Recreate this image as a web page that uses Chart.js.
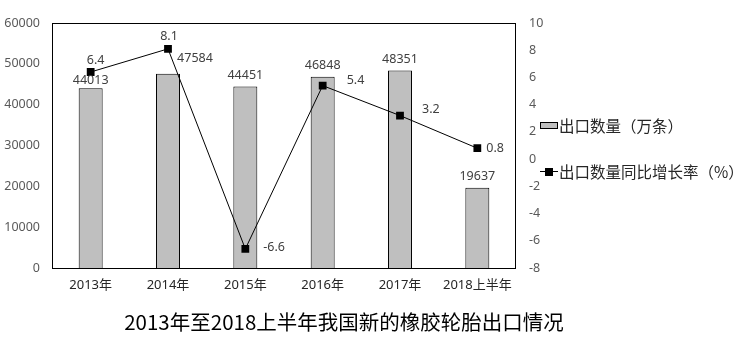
<!DOCTYPE html>
<html>
<head>
<meta charset="utf-8">
<script src="https://cdn.jsdelivr.net/npm/chart.js@4"></script>
<style>
  body { margin: 0; background: #fff; }
  canvas { display: block; }
</style>
</head>
<body>
<canvas id="myChart" width="744" height="352"></canvas>
<script>
// data
const categories = ['2013年', '2014年', '2015年', '2016年', '2017年', '2018上半年'];
const exportVolume = [44013, 47584, 44451, 46848, 48351, 19637];   // 出口数量（万条）
const growthRate = [6.4, 8.1, -6.6, 5.4, 3.2, 0.8];                  // 同比增长率（%）
const titleText = '2013年至2018上半年我国新的橡胶轮胎出口情况';
const barLegend = '出口数量（万条）';
const lineLegend = '出口数量同比增长率（%）';

const FONT = "'Noto Sans', 'Noto Sans CJK SC', sans-serif";
const CJK = "'Noto Sans CJK SC', 'Noto Sans', sans-serif";

// label placement tweaks (dx, dy from the mark)
const barLabelShift = [[0, -8], [27, -15], [0, -11], [0, -11], [0, -11], [0, -11]];
const lineLabelShift = [[5, -12, 'center'], [1, -12, 'center'], [18, -2, 'left'],
                        [24, -5, 'left'], [22, -6, 'left'], [9, 0, 'left']];

const extras = {
  id: 'extras',
  afterDatasetsDraw(chart) {
    const ctx = chart.ctx;
    const a = chart.chartArea;
    ctx.save();
    // plot frame
    ctx.strokeStyle = '#000';
    ctx.lineWidth = 1;
    ctx.strokeRect(Math.round(a.left) + 0.5, Math.round(a.top) + 0.5,
                   Math.round(a.right - a.left) - 1, Math.round(a.bottom - a.top));

    ctx.font = '12.5px ' + FONT;
    ctx.fillStyle = '#404040';
    ctx.textBaseline = 'middle';
    // bar values
    chart.getDatasetMeta(1).data.forEach((bar, i) => {
      ctx.textAlign = 'center';
      ctx.fillText(String(exportVolume[i]), bar.x + barLabelShift[i][0], bar.y + barLabelShift[i][1]);
    });
    // line values
    chart.getDatasetMeta(0).data.forEach((pt, i) => {
      const s = lineLabelShift[i];
      ctx.textAlign = s[2];
      ctx.fillText(String(growthRate[i]), pt.x + s[0], pt.y + s[1]);
    });

    // legend
    ctx.font = '15.5px ' + CJK;
    ctx.textAlign = 'left';
    ctx.fillStyle = '#BFBFBF';
    ctx.fillRect(540, 122, 18, 7);
    ctx.strokeStyle = '#000';
    ctx.strokeRect(540.5, 122.5, 17, 6);
    ctx.fillStyle = '#262626';
    ctx.fillText(barLegend, 559, 126);

    ctx.beginPath();
    ctx.moveTo(540, 171.5);
    ctx.lineTo(558, 171.5);
    ctx.stroke();
    ctx.fillStyle = '#000';
    ctx.fillRect(545, 168, 8, 8);
    ctx.fillStyle = '#262626';
    ctx.fillText(lineLegend, 559, 172);

    // title
    ctx.font = '20.5px ' + CJK;
    ctx.fillStyle = '#000';
    ctx.textAlign = 'center';
    ctx.fillText(titleText, 344, 322);
    ctx.restore();
  }
};

new Chart(document.getElementById('myChart'), {
  type: 'bar',
  data: {
    labels: categories,
    datasets: [
      {
        type: 'line',
        label: lineLegend,
        data: growthRate,
        yAxisID: 'y1',
        borderColor: '#000',
        borderWidth: 1,
        pointStyle: 'rect',
        pointRadius: 5.5,
        pointBorderWidth: 0,
        pointBackgroundColor: '#000',
        tension: 0,
        order: 0
      },
      {
        type: 'bar',
        label: barLegend,
        data: exportVolume,
        yAxisID: 'y',
        backgroundColor: '#BFBFBF',
        borderColor: '#000',
        borderWidth: 1,
        categoryPercentage: 1,
        barPercentage: 0.31,
        order: 1
      }
    ]
  },
  options: {
    responsive: false,
    animation: false,
    layout: { padding: { top: 23, left: 0, right: 0, bottom: 0 } },
    plugins: {
      legend: { display: false },
      tooltip: { enabled: false },
      title: { display: false }
    },
    scales: {
      x: {
        offset: true,
        grid: { display: false, drawTicks: false },
        border: { display: false },
        ticks: { color: '#262626', font: { size: 13, family: FONT }, padding: 9, maxRotation: 0 },
        afterFit(scale) { scale.height = 84; }
      },
      y: {
        position: 'left',
        min: 0,
        max: 60000,
        grid: { display: false, drawTicks: false },
        border: { display: false },
        ticks: {
          stepSize: 10000,
          color: '#595959',
          font: { size: 12.5, family: FONT },
          padding: 12,
          callback: (v) => String(v)
        },
        afterFit(scale) { scale.width = 52; }
      },
      y1: {
        position: 'right',
        min: -8,
        max: 10,
        grid: { display: false, drawTicks: false },
        border: { display: false },
        ticks: {
          stepSize: 2,
          color: '#595959',
          font: { size: 12.5, family: FONT },
          padding: 13,
          callback: (v) => String(v)
        },
        afterFit(scale) { scale.width = 228; }
      }
    }
  },
  plugins: [extras]
});
</script>
</body>
</html>
